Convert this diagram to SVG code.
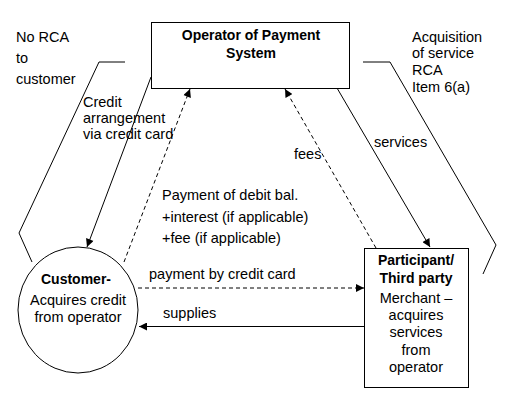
<svg xmlns="http://www.w3.org/2000/svg" width="517" height="404" viewBox="0 0 517 404">
<defs>
<marker id="ah" viewBox="0 0 10 10" refX="10" refY="5" markerWidth="9" markerHeight="8" markerUnits="userSpaceOnUse" orient="auto">
<path d="M0,0 L10,5 L0,10 z" fill="#000"/>
</marker>
</defs>
<style>
text{font-family:"Liberation Sans",Arial,sans-serif;font-size:14.5px;fill:#000}
.b{font-weight:bold;font-size:14px}
.c{text-anchor:middle}
.ln{fill:none;stroke:#000;stroke-width:1}
.d{stroke-dasharray:4 3}
.a{marker-end:url(#ah)}
</style>
<rect width="517" height="404" fill="#fff"/>
<g id="connectors">
<line class="ln a" x1="151" y1="77" x2="87" y2="247"/>
<line class="ln d a" x1="124" y1="262" x2="190" y2="89"/>
<line class="ln a" x1="337" y1="88" x2="430" y2="247"/>
<line class="ln d a" x1="376" y1="248" x2="285" y2="89"/>
<line class="ln d a" x1="138" y1="288" x2="364" y2="288"/>
<line class="ln a" x1="364" y1="326.5" x2="139" y2="326.5"/>
<polyline class="ln" points="125,62 99,62 19,233 32,262"/>
<polyline class="ln" points="363,62 390,62 496,245 483,274"/>
</g>
<g id="operator">
<rect x="151.5" y="22.5" width="198" height="66" fill="#fff" stroke="#000"/>
<text class="b c" x="251" y="40">Operator of Payment</text>
<text class="b c" x="251" y="58">System</text>
</g>
<g id="customer">
<ellipse cx="78" cy="310" rx="60" ry="63" fill="#fff" stroke="#000"/>
<text class="b c" x="76" y="284">Customer-</text>
<text class="c" x="78" y="305">Acquires credit</text>
<text class="c" x="78" y="322">from operator</text>
</g>
<g id="participant">
<rect x="364.5" y="248.5" width="104" height="139" fill="#fff" stroke="#000"/>
<text class="b c" x="416" y="265">Participant/</text>
<text class="b c" x="416" y="283">Third party</text>
<text class="c" x="416" y="303">Merchant –</text>
<text class="c" x="416" y="320">acquires</text>
<text class="c" x="416" y="337">services</text>
<text class="c" x="416" y="355">from</text>
<text class="c" x="416" y="372">operator</text>
</g>
<g id="labels">
<text x="16" y="42">No RCA</text>
<text x="16" y="63">to</text>
<text x="16" y="84">customer</text>
<text x="83" y="107">Credit</text>
<text x="83" y="123">arrangement</text>
<text x="83" y="139">via credit card</text>
<text x="412" y="42">Acquisition</text>
<text x="412" y="58">of service</text>
<text x="412" y="75">RCA</text>
<text x="412" y="92">Item 6(a)</text>
<text x="374" y="147">services</text>
<text x="294" y="159">fees</text>
<text x="162" y="200">Payment of debit bal.</text>
<text x="162" y="222">+interest (if applicable)</text>
<text x="162" y="243">+fee (if applicable)</text>
<text x="149" y="279">payment by credit card</text>
<text x="163" y="318">supplies</text>
</g>
</svg>
